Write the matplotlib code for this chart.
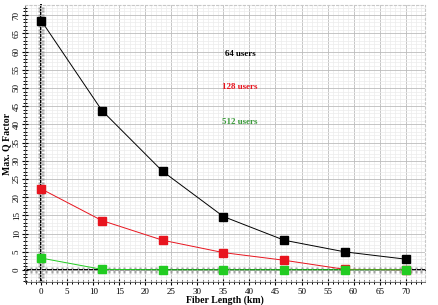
import numpy as np
import matplotlib
matplotlib.use('Agg')
import matplotlib.pyplot as plt
from matplotlib.ticker import MultipleLocator

# fiber length (km) and max Q factor per user count
fiber_km = [0, 11.67, 23.33, 35, 46.67, 58.33, 70]
q_64 = [68.5, 43.8, 27.1, 14.7, 8.2, 5.0, 3.0]
q_128 = [22.3, 13.6, 8.2, 4.8, 2.7, 0.2, 0.1]
q_512 = [3.3, 0.2, 0.1, 0.1, 0.1, 0.1, 0.1]

series = [
    ("64 users", q_64, "black", 59.3),
    ("128 users", q_128, "#e8141e", 50.3),
    ("512 users", q_512, "#22cc22", 40.7),
]
label_colors = {"64 users": "black", "128 users": "#e8141e", "512 users": "#3a9a3a"}

plt.rcParams['font.family'] = ['Liberation Serif', 'DejaVu Serif']

fig = plt.figure(figsize=(4.39, 3.05), dpi=100)
ax = fig.add_axes([0.057, 0.075, 0.911, 0.909])

xmin, xmax = -3.1, 73.7
ymin, ymax = -3.3, 72.8
ax.set_xlim(xmin, xmax)
ax.set_ylim(ymin, ymax)

ax.xaxis.set_major_locator(MultipleLocator(5))
ax.xaxis.set_minor_locator(MultipleLocator(1))
ax.yaxis.set_major_locator(MultipleLocator(5))
ax.yaxis.set_minor_locator(MultipleLocator(1))

ax.grid(which='major', color='#bcbcbc', lw=0.6)
ax.grid(which='minor', color='#ececec', lw=0.5)
ax.set_axisbelow(True)

ax.tick_params(which='both', direction='inout', labelsize=6.5, colors='black')
ax.tick_params(which='major', length=4, width=0.8)
ax.tick_params(which='minor', length=3, width=0.7)
ax.tick_params(axis='y', labelrotation=90, pad=1)
ax.tick_params(axis='x', pad=2)
for lbl in ax.get_yticklabels():
    lbl.set_va('center')

for side in ['top', 'right']:
    ax.spines[side].set_color('#c8c8c8')
    ax.spines[side].set_linestyle((0, (2, 2)))
for side in ['left', 'bottom']:
    ax.spines[side].set_color('#555555')
    ax.spines[side].set_linewidth(0.6)

# zero axes drawn inside with tick marks
yfrac = (0 - ymin) / (ymax - ymin)
xfrac = (0 - xmin) / (xmax - xmin)
sx = ax.secondary_xaxis(yfrac)
sy = ax.secondary_yaxis(xfrac)
for sec, axis in [(sx, sx.xaxis), (sy, sy.yaxis)]:
    axis.set_major_locator(MultipleLocator(5))
    axis.set_minor_locator(MultipleLocator(1))
    sec.tick_params(which='both', direction='inout', labelbottom=False,
                    labelleft=False, width=1.0, color='black')
    sec.tick_params(which='major', length=5)
    sec.tick_params(which='minor', length=4)
sx.spines['bottom'].set_linewidth(1.4)
sy.spines['left'].set_linewidth(1.4)

for name, vals, color, ylab in series:
    ax.plot(fiber_km, vals, color=color, lw=0.7, marker='s', markersize=5.5,
            markeredgecolor=color, zorder=3)
    ax.text(38.2, ylab, name, color=label_colors[name], fontsize=6.5,
            fontweight='bold', ha='center', va='center')

ax.set_xlabel('Fiber Length (km)', fontsize=7, fontweight='bold', labelpad=0)
ax.set_ylabel('Max. Q Factor', fontsize=7, fontweight='bold', labelpad=1)

fig.savefig('out.png', dpi=100)
